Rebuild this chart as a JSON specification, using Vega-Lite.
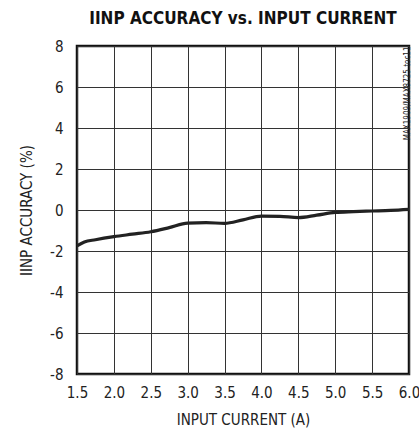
{
  "$schema": "https://vega.github.io/schema/vega-lite/v6.json",
  "width": 332,
  "height": 328,
  "autosize": "none",
  "padding": {"left": 77, "top": 46, "right": 10, "bottom": 63},
  "background": "white",
  "title": {"text": "IINP ACCURACY vs. INPUT CURRENT", "font": "DejaVu Sans Condensed", "fontSize": 17, "fontWeight": "bold", "color": "#111", "anchor": "middle", "offset": 11},
  "config": {
    "view": {"stroke": "#111", "strokeWidth": 2.5},
    "axis": {"labelFont": "DejaVu Sans Condensed", "titleFont": "DejaVu Sans Condensed", "labelFontSize": 15, "titleFontSize": 15, "titleFontWeight": "normal", "labelColor": "#222", "titleColor": "#222", "gridColor": "#333", "gridWidth": 1, "gridOpacity": 1, "domain": false, "ticks": false, "labelOverlap": false, "labelFlush": false}
  },
  "data": {"values": [
    {"current": 1.5, "accuracy": -1.75},
    {"current": 1.6, "accuracy": -1.56},
    {"current": 1.75, "accuracy": -1.45},
    {"current": 2.0, "accuracy": -1.3},
    {"current": 2.25, "accuracy": -1.18},
    {"current": 2.5, "accuracy": -1.06},
    {"current": 2.75, "accuracy": -0.86},
    {"current": 3.0, "accuracy": -0.64},
    {"current": 3.25, "accuracy": -0.62},
    {"current": 3.5, "accuracy": -0.65},
    {"current": 3.75, "accuracy": -0.48},
    {"current": 4.0, "accuracy": -0.3},
    {"current": 4.25, "accuracy": -0.31},
    {"current": 4.5, "accuracy": -0.37},
    {"current": 4.75, "accuracy": -0.25},
    {"current": 5.0, "accuracy": -0.12},
    {"current": 5.25, "accuracy": -0.08},
    {"current": 5.5, "accuracy": -0.05},
    {"current": 5.75, "accuracy": -0.02},
    {"current": 6.0, "accuracy": 0.03}
  ]},
  "encoding": {
    "x": {"field": "current", "type": "quantitative", "scale": {"domain": [1.5, 6.0], "nice": false, "zero": false}, "axis": {"values": [1.5, 2.0, 2.5, 3.0, 3.5, 4.0, 4.5, 5.0, 5.5, 6.0], "format": ".1f", "title": "INPUT CURRENT (A)", "labelPadding": 11, "titlePadding": 12}}
  },
  "layer": [
    {
      "mark": {"type": "line", "color": "#222", "strokeWidth": 3.2, "interpolate": "monotone"},
      "encoding": {
        "y": {"field": "accuracy", "type": "quantitative", "scale": {"domain": [-8, 8], "nice": false}, "axis": {"values": [-8, -6, -4, -2, 0, 2, 4, 6, 8], "labelExpr": "replace(datum.label, '−', '-')", "title": "IINP ACCURACY (%)", "labelPadding": 14, "titlePadding": 15}}
      }
    },
    {
      "mark": {"type": "line", "opacity": 0},
      "encoding": {
        "y": {"field": "accuracy", "type": "quantitative", "axis": {"orient": "right", "grid": false, "labels": false, "title": "MAX1909/MAX8725 toc11", "titleFontSize": 8, "titleAngle": 270, "titleAnchor": "end", "titlePadding": 2}}
      }
    }
  ],
  "resolve": {"axis": {"y": "independent"}}
}
